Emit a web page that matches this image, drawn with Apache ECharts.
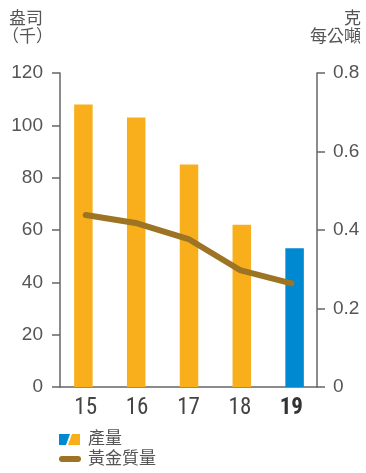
<!DOCTYPE html>
<html><head><meta charset="utf-8">
<script src="https://cdn.jsdelivr.net/npm/echarts@6/dist/echarts.min.js"></script>
<style>html,body{margin:0;padding:0;background:#fff}#c{width:366px;height:473px}</style>
</head><body><div id="c"></div>
<script>
const categories = ['15','16','17','18','19'];
const production = [108, 103, 85, 62, 53];
const goldGrade = [0.438, 0.417, 0.377, 0.298, 0.264];
const leftTicks = [0, 20, 40, 60, 80, 100, 120];
const rightTicks = [0, 0.2, 0.4, 0.6, 0.8];

const ORANGE = '#F9AE1B', BLUE = '#0089D0', BROWN = '#9C7424', AX = '#666666', TXT = '#555555';
const NUM = '"Liberation Sans", sans-serif';
const COND = '"Roboto Condensed", sans-serif';
const CJK = '"Noto Sans CJK TC", sans-serif';

const chart = echarts.init(document.getElementById('c'), null, {renderer: 'canvas'});
chart.setOption({
  animation: false,
  grid: [
    {left: 60, right: 49, top: 73, bottom: 86},
    {left: 57, right: 45, top: 73, bottom: 86}
  ],
  xAxis: [
    {type: 'category', data: categories, gridIndex: 0,
     axisLine: {lineStyle: {color: AX, width: 1.5}},
     axisTick: {show: false},
     axisLabel: {
       interval: 0, margin: 10, fontSize: 23, fontFamily: COND, color: '#444',
       formatter: v => v === '19' ? '{b|' + v + '}' : v,
       rich: {b: {fontWeight: 'bold', fontSize: 23, fontFamily: COND, color: '#333'}}
     }},
    {type: 'category', data: categories, gridIndex: 1, show: false}
  ],
  yAxis: [
    {type: 'value', min: 0, max: 120, interval: 20, position: 'left', gridIndex: 0,
     axisLine: {show: true, lineStyle: {color: AX, width: 1.5}},
     axisTick: {show: true, length: 8, lineStyle: {color: AX, width: 1.5}},
     splitLine: {show: false},
     axisLabel: {margin: 17, fontSize: 19, fontFamily: NUM, color: TXT}},
    {type: 'value', min: 0, max: 0.8, interval: 0.2, position: 'right', gridIndex: 0,
     axisLine: {show: true, lineStyle: {color: AX, width: 1.5}},
     axisTick: {show: true, length: 8, lineStyle: {color: AX, width: 1.5}},
     splitLine: {show: false},
     axisLabel: {margin: 16, fontSize: 19, fontFamily: NUM, color: TXT,
       formatter: v => v === 0 ? '0' : v.toFixed(1)}},
    {type: 'value', min: 0, max: 120, gridIndex: 1, show: false, splitLine: {show: false}}
  ],
  series: [
    {type: 'bar', xAxisIndex: 1, yAxisIndex: 2, barWidth: 18.5,
     data: production.map((v, i) => ({value: v, itemStyle: {color: i === production.length - 1 ? BLUE : ORANGE}}))},
    {type: 'line', xAxisIndex: 0, yAxisIndex: 1, data: goldGrade, symbol: 'none', z: 5,
     lineStyle: {color: BROWN, width: 6, cap: 'round', join: 'round'}}
  ],
  graphic: [
    {type: 'text', left: 9, top: 9, style: {text: '盎司', font: '17px ' + CJK, fill: TXT}},
    {type: 'text', left: 2, top: 27, style: {text: '（千）', font: '17px ' + CJK, fill: TXT}},
    {type: 'text', right: 5, top: 9, style: {text: '克', font: '17px ' + CJK, fill: TXT}},
    {type: 'text', right: 5, top: 27, style: {text: '每公噸', font: '17px ' + CJK, fill: TXT}},
    {type: 'polygon', shape: {points: [[59,434],[70,434],[66,445],[59,445]]}, style: {fill: BLUE}},
    {type: 'polygon', shape: {points: [[72,434],[80,434],[80,445],[68,445]]}, style: {fill: ORANGE}},
    {type: 'text', left: 88, top: 429, style: {text: '產量', font: '17px ' + CJK, fill: TXT}},
    {type: 'line', shape: {x1: 62, y1: 459, x2: 78, y2: 459}, style: {stroke: BROWN, lineWidth: 6, lineCap: 'round'}},
    {type: 'text', left: 88, top: 449, style: {text: '黃金質量', font: '17px ' + CJK, fill: TXT}}
  ]
});
</script></body></html>
